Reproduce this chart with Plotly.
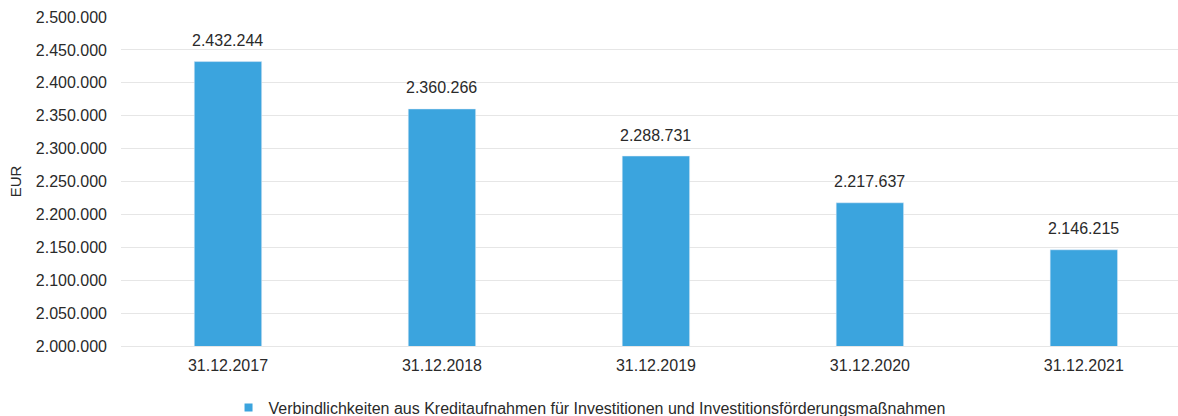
import plotly.graph_objects as go

categories = ["31.12.2017", "31.12.2018", "31.12.2019", "31.12.2020", "31.12.2021"]
values = [2432244, 2360266, 2288731, 2217637, 2146215]
series_name = "Verbindlichkeiten aus Kreditaufnahmen für Investitionen und Investitionsförderungsmaßnahmen"
y_ticks = [2000000, 2050000, 2100000, 2150000, 2200000, 2250000, 2300000, 2350000, 2400000, 2450000, 2500000]

bar_color = "#3ba4de"
text_color = "#2a2a2a"

fig = go.Figure()

fig.add_trace(go.Bar(
    x=categories,
    y=values,
    name=series_name,
    marker_color=bar_color,
    width=0.315,
    showlegend=False,
))

# legend entry with a small square, like the original
fig.add_trace(go.Scatter(
    x=[None], y=[None],
    mode="markers",
    name=series_name,
    marker=dict(symbol="square", size=8, color=bar_color),
))

# value labels above bars
for c, v in zip(categories, values):
    fig.add_annotation(
        x=c, y=v,
        text=f"{v:,}".replace(",", "."),
        showarrow=False,
        yanchor="middle",
        yshift=21,
        font=dict(size=16, color=text_color),
    )

fig.update_layout(
    width=1178,
    height=416,
    margin=dict(l=121, r=0, t=17, b=70, autoexpand=False),
    paper_bgcolor="white",
    plot_bgcolor="white",
    separators=",.",
    font=dict(family="Liberation Sans, Arial, sans-serif", size=16, color=text_color),
    showlegend=True,
    legend=dict(
        orientation="h",
        xref="container", yref="container",
        x=0.194, xanchor="left",
        y=0.02, yanchor="middle",
        font=dict(size=16, color=text_color),
        itemwidth=30,
    ),
)

fig.update_yaxes(
    range=[2000000, 2500000],
    tickvals=y_ticks,
    tickformat=",d",
    gridcolor="#e6e6e6",
    zeroline=False,
    title=dict(text="EUR", standoff=10, font=dict(size=15, color=text_color)),
    ticks="",
    ticklabelstandoff=13,
    automargin=False,
)
fig.update_xaxes(
    range=[-0.5, 4.44],
    showgrid=False,
    showline=True,
    linecolor="#e6e6e6",
    ticks="",
    ticklabelstandoff=5,
    automargin=False,
)

# remove the default page margin so the figure fills the window
fig.write_html("out.html", config={"displayModeBar": False},
               post_script="document.body.style.margin='0';")
